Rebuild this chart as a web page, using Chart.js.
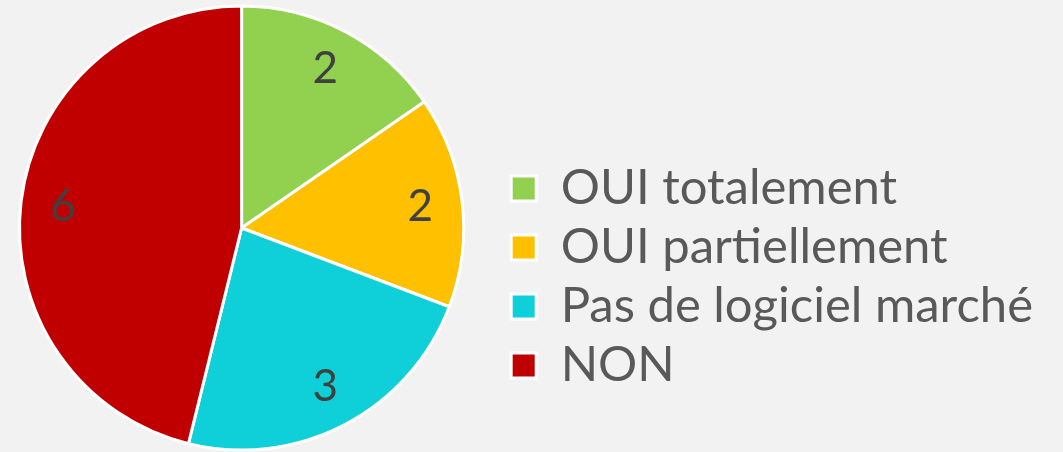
<!DOCTYPE html>
<html>
<head>
<meta charset="utf-8">
<script src="https://cdn.jsdelivr.net/npm/chart.js@4.4.0/dist/chart.umd.min.js"></script>
<style>
  html, body { margin: 0; padding: 0; background: #f2f2f2; }
  #wrap { width: 1063px; height: 452px; }
</style>
</head>
<body>
<div id="wrap"><canvas id="pie"></canvas></div>
<script>
// chart data
var labels = ['OUI totalement', 'OUI partiellement', 'Pas de logiciel marché', 'NON'];
var values = [2, 2, 3, 6];
var colors = ['#92d050', '#ffc000', '#0fd0d8', '#c00000'];

// draw the value inside each slice
var sliceLabels = {
    id: 'sliceLabels',
    afterDatasetsDraw: function (chart) {
        var ctx = chart.ctx;
        var meta = chart.getDatasetMeta(0);
        ctx.save();
        ctx.font = '44px Lato';
        ctx.fillStyle = '#404040';
        ctx.textAlign = 'center';
        ctx.textBaseline = 'middle';
        meta.data.forEach(function (arc, i) {
            var mid = (arc.startAngle + arc.endAngle) / 2;
            var r = arc.outerRadius * 0.81;
            ctx.fillText(values[i], arc.x + Math.cos(mid) * r, arc.y + Math.sin(mid) * r);
        });
        ctx.restore();
    }
};

var ctx = document.getElementById('pie').getContext('2d');
var pieChart = new Chart(ctx, {
    type: 'pie',
    data: {
        labels: labels,
        datasets: [{
            data: values,
            backgroundColor: colors,
            borderColor: '#ffffff',
            borderWidth: 3
        }]
    },
    options: {
        responsive: true,
        maintainAspectRatio: false,
        animation: false,
        layout: {
            padding: { left: 18, top: 4, bottom: 0, right: 20 }
        },
        plugins: {
            // empty title used as a spacer between pie and legend
            title: {
                display: true,
                text: ' ',
                position: 'right',
                weight: 500,
                font: { size: 10 },
                padding: 12
            },
            legend: {
                position: 'right',
                maxWidth: 600,
                title: {
                    display: true,
                    text: ' ',
                    font: { size: 10 },
                    padding: { top: 43, bottom: 43 }
                },
                labels: {
                    font: { family: 'Lato', size: 49 },
                    color: '#595959',
                    boxWidth: 25,
                    boxHeight: 25,
                    padding: 10
                }
            },
            tooltip: { enabled: false }
        }
    },
    plugins: [sliceLabels]
});
</script>
</body>
</html>
